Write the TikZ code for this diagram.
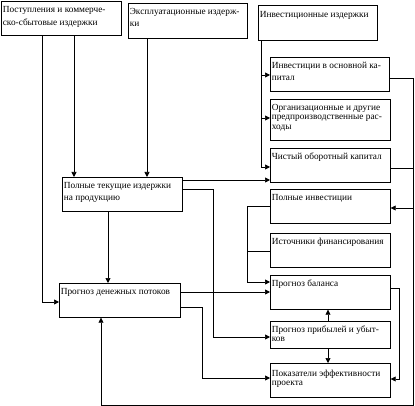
\documentclass[tikz,border=0pt]{standalone}
\usepackage{fontspec}
\setmainfont{Liberation Serif}
\usetikzlibrary{arrows.meta}
\newcommand{\bxtext}[4]{\parbox[t][#2pt][t]{#1pt}{\fontsize{9.3pt}{#3pt}\selectfont\raggedright\leftskip=1.5pt\rightskip=0pt plus 1fil minus 20pt\rule{0pt}{11pt}#4}}
\begin{document}
\begin{tikzpicture}[x=1pt,y=-1pt,
  box/.style={draw, inner sep=0pt, anchor=north west, line width=0.7pt},
  conn/.style={line width=0.7pt},
  arr/.style={conn, -{Triangle[length=5pt,width=5pt]}},
  >={Triangle[length=5pt,width=5pt]}]
\useasboundingbox (0,0) rectangle (415,406);
\node[box] (b1) at (1,1) {\bxtext{120}{34}{13}{Поступления и коммерче-\\ско-сбытовые издержки}};
\node[box] (b2) at (128,3) {\bxtext{119}{35}{12}{Эксплуатационные издерж-\\ки}};
\node[box] (b3) at (258,5) {\bxtext{119}{35}{12}{\rule{0pt}{12pt}Инвестиционные издержки}};
\node[box] (b4) at (270,57) {\bxtext{119}{34}{12}{Инвестиции в основной ка-\\питал}};
\node[box] (b5) at (270,99) {\bxtext{120}{41}{9.5}{Организационные и другие\\предпроизводственные рас-\\ходы}};
\node[box] (b6) at (270,148) {\bxtext{120}{34}{12}{Чистый оборотный капитал}};
\node[box] (b7) at (270,189) {\bxtext{120}{34}{12}{Полные инвестиции}};
\node[box] (b8) at (270,233) {\bxtext{120}{34}{12}{Источники финансирования}};
\node[box] (b9) at (270,275) {\bxtext{120}{34}{12}{Прогноз баланса}};
\node[box] (b10) at (270,321) {\bxtext{120}{27}{9.5}{Прогноз прибылей и убыт-\\ков}};
\node[box] (b11) at (270,363) {\bxtext{120}{34}{9.5}{\rule{0pt}{13pt}Показатели эффективности\\проекта}};
\node[box] (b12) at (62,177) {\bxtext{120}{34}{12}{Полные текущие издержки\\на продукцию}};
\node[box] (b13) at (59,283) {\bxtext{121}{34}{12}{Прогноз денежных потоков}};
\coordinate (br) at (413,405);
% from b1
\draw[arr] ([xshift=41pt]b1.south west) |- ([yshift=-19pt]b13.north west);
\draw[arr] ([xshift=73pt]b1.south west) -- ([xshift=73pt]b1.south west |- b12.north);
% from b2
\draw[arr] ([xshift=19pt]b2.south west) -- ([xshift=19pt]b2.south west |- b12.north);
% from b3
\draw[arr] ([xshift=3pt]b3.south west) |- ([yshift=-19pt]b6.north west);
\draw[arr] ([xshift=3pt]b3.south west) |- ([yshift=-18pt]b4.north west);
\draw[arr] ([xshift=3pt]b3.south west) |- ([yshift=-19pt]b5.north west);
% from b12
\draw[arr] ([yshift=-3pt]b12.north east) -- ([yshift=-3pt]b12.north east -| b6.west);
\draw[arr] ([yshift=-12pt]b12.north east) -| ([xshift=-57pt,yshift=-16pt]b10.north west) -- ([yshift=-16pt]b10.north west);
\draw[arr] ([xshift=46pt]b12.south west) -- ([xshift=46pt]b12.south west |- b13.north);
% from b13
\draw[arr] ([yshift=-9pt]b13.north east) -- ([yshift=-9pt]b13.north east -| b9.west);
\draw[arr] ([yshift=-24pt]b13.north east) -| ([xshift=-68pt,yshift=-15pt]b11.north west) -- ([yshift=-15pt]b11.north west);
% b7, b8 to b9
\draw[arr] ([yshift=-17pt]b7.north west) -| ([xshift=-23pt,yshift=-7pt]b9.north west) -- ([yshift=-7pt]b9.north west);
\draw[conn] ([yshift=-18pt]b8.north west) -- ([xshift=-23pt,yshift=-18pt]b8.north west);
% right loop
\draw[arr] ([yshift=-21pt]b4.north east) -| (br) -| ([xshift=42pt]b13.south west);
\draw[conn] ([yshift=-20pt]b6.north east) -- ([yshift=-20pt]b6.north east -| br);
\draw[arr] ([yshift=-19pt]b7.north east -| br) -- ([yshift=-19pt]b7.north east);
% b9 to b11
\draw[arr] ([yshift=-13pt]b9.north east) -| ([xshift=9pt,yshift=-16pt]b11.north east) -- ([yshift=-16pt]b11.north east);
% b10 links
\draw[arr] ([xshift=58pt]b10.north west) -- ([xshift=58pt]b9.south west);
\draw[arr] ([xshift=58pt]b10.south west) -- ([xshift=58pt]b11.north west);
\end{tikzpicture}
\end{document}
